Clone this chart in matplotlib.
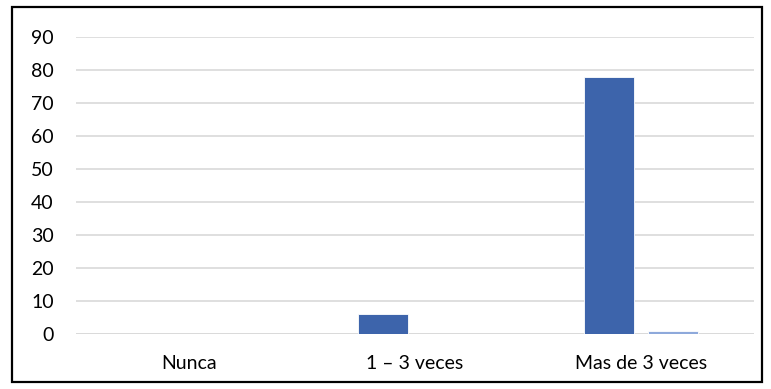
import matplotlib
matplotlib.use("Agg")
import matplotlib.pyplot as plt
from matplotlib.patches import Rectangle
import numpy as np

categories = ["Nunca", "1 – 3 veces", "Mas de 3 veces"]
serie_1 = [0, 6, 78]
serie_2 = [0, 0, 1]
y_ticks = [0, 10, 20, 30, 40, 50, 60, 70, 80, 90]

plt.rcParams["font.family"] = ["Lato", "DejaVu Sans"]

W, H = 771, 389
fig = plt.figure(figsize=(W / 100, H / 100), dpi=100)
ax = fig.add_axes([76 / W, (H - 334) / H, (754 - 76) / W, (334 - 37) / H])

x = np.arange(len(categories))
bw = 50 / 226
off = 32 / 226
ax.bar(x - off, serie_1, width=bw, color="#3D64AB", edgecolor="white", linewidth=0.6, zorder=3)
ax.bar(x + off, serie_2, width=bw, color="#8EA9DB", edgecolor="white", linewidth=0.6, zorder=3)

ax.set_xlim(-0.5, len(categories) - 0.5)
ax.set_ylim(0, 90)
ax.set_yticks(y_ticks)
ax.set_xticks(x)
ax.set_xticklabels(categories)
ax.yaxis.grid(True, color="#D9D9D9", linewidth=1.2, zorder=0)
ax.set_axisbelow(True)
for s in ax.spines.values():
    s.set_visible(False)
ax.tick_params(axis="y", length=0, pad=16, labelsize=14, labelcolor="#000000")
ax.tick_params(axis="x", length=0, pad=15, labelsize=14, labelcolor="#000000")

# zero line drawn under the bars
ax.axhline(0, color="#D9D9D9", linewidth=1.2, zorder=2)

# outer frame around the whole chart
fig.patches.append(Rectangle((12 / W, 7 / H), (762 - 12) / W, (382 - 7) / H,
                             transform=fig.transFigure, fill=False,
                             edgecolor="black", linewidth=1.6))

fig.savefig("out.png", dpi=100)
